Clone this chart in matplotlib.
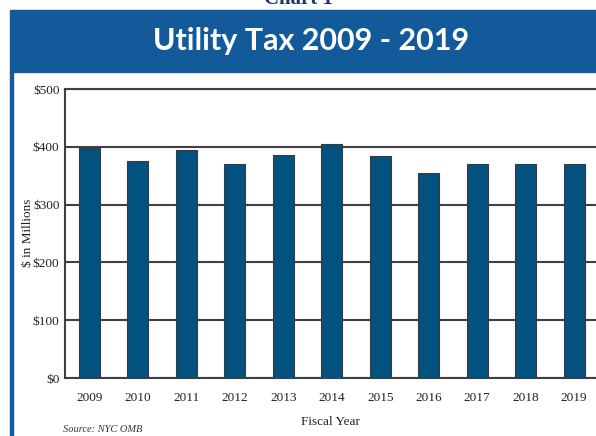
import matplotlib
matplotlib.use("Agg")
import matplotlib.pyplot as plt
from matplotlib.patches import Rectangle

# ── data ─────────────────────────────────────────────────────────────────────
years = ["2009", "2010", "2011", "2012", "2013", "2014",
         "2015", "2016", "2017", "2018", "2019"]
values = [398, 375, 394, 371, 385, 405, 384, 355, 371, 371, 370]
yticks = [0, 100, 200, 300, 400, 500]
ytick_labels = ["$0", "$100", "$200", "$300", "$400", "$500"]

W, H = 596, 436
BLUE = "#135a9a"
BAR = "#02517f"

fig = plt.figure(figsize=(W / 100, H / 100), dpi=100)
fig.patch.set_facecolor("white")

# header band + left border
fig.patches.append(Rectangle((10 / W, 1 - 72 / H), 1, 62 / H,
                             transform=fig.transFigure, color=BLUE, zorder=0))
fig.patches.append(Rectangle((10 / W, 0), 3 / W, 1 - 72 / H,
                             transform=fig.transFigure, color=BLUE, zorder=0))
fig.text(0.5, 1 - 4 / H, "Chart 1", ha="center", va="baseline", color="#1b3a6b",
         fontsize=15, fontweight="bold", family="Liberation Serif")
fig.text(311 / W, 1 - 41 / H, "Utility Tax 2009 - 2019", ha="center", va="center",
         color="white", fontsize=22, fontweight="bold", family="Lato")

# ── axes ─────────────────────────────────────────────────────────────────────
left, right = 65 / W, 1.0
bottom, top = 1 - 378 / H, 1 - 89 / H
ax = fig.add_axes([left, bottom, right - left, top - bottom])

x = range(len(years))
ax.bar(x, values, width=0.43, color=BAR, edgecolor="#3a3a3a", linewidth=0.8, zorder=3)

ax.set_xlim(-0.5, 10.45)
ax.set_ylim(0, 500)
ax.set_yticks(yticks)
ax.set_yticklabels(ytick_labels)
ax.set_xticks(list(x))
ax.set_xticklabels(years)
ax.yaxis.grid(True, color="#404040", linewidth=1.5, zorder=1)
ax.set_axisbelow(True)

ax.spines["right"].set_visible(False)
for s in ("left", "bottom", "top"):
    ax.spines[s].set_color("#404040")
    ax.spines[s].set_linewidth(1.5)

ax.tick_params(axis="both", length=0, labelsize=9.5, colors="#222222")
ax.tick_params(axis="x", pad=10)
ax.tick_params(axis="y", pad=4)
for lab in ax.get_xticklabels() + ax.get_yticklabels():
    lab.set_family("Liberation Serif")

fig.text(28 / W, 1 - 233 / H, "$ in Millions", rotation=90, ha="center", va="center",
         fontsize=9.5, family="Liberation Serif", color="#222222")
fig.text(330 / W, 1 - 422 / H, "Fiscal Year", ha="center", va="center",
         fontsize=9.5, family="Liberation Serif", color="#222222")
fig.text(63 / W, 1 - 429 / H, "Source: NYC OMB", ha="left", va="center",
         fontsize=7.5, style="italic", family="Liberation Serif", color="#333333")

fig.savefig("out.png", dpi=100)
